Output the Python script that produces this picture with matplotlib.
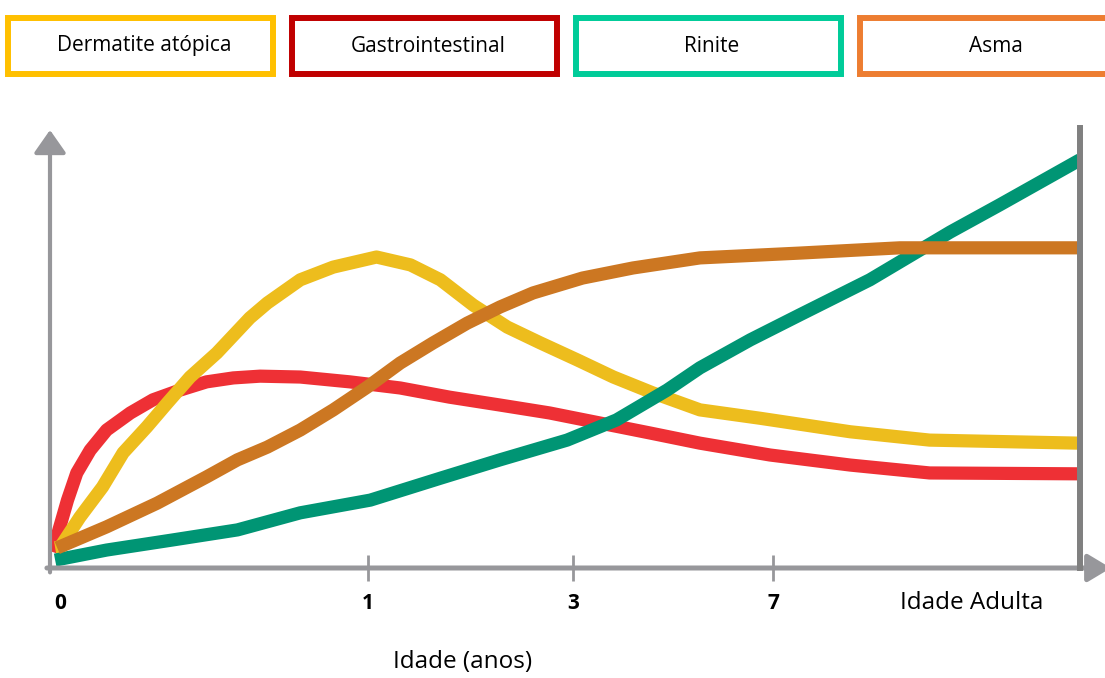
import matplotlib
matplotlib.use('Agg')
import matplotlib.pyplot as plt
from matplotlib.patches import Rectangle

# curves: x = position along the age axis (0-100), y = level (0-100)
red_x = [0.2, 0.5, 1.7, 2.6, 3.9, 5.5, 7.8, 10.0, 12.6, 15.2, 17.8, 20.4, 24.3, 29.1, 34.0, 38.8, 43.7,
         48.5, 53.4, 58.3, 63.1, 69.9, 77.7, 85.4, 100]
red_y = [3.7, 5.7, 15.5, 21.7, 26.9, 31.5, 35.4, 38.4, 40.6, 42.5, 43.4, 43.8, 43.6, 42.5, 41.1, 39.0, 37.2,
         35.4, 33.1, 30.8, 28.5, 25.8, 23.5, 21.7, 21.5]
yel_x = [0.5, 1.0, 2.9, 5.1, 7.1, 9.4, 11.4, 13.6, 16.2, 19.4, 21.1, 24.3, 27.5, 31.7, 35.0, 37.9, 41.1,
         44.4, 47.6, 51.2, 54.7, 58.5, 63.1, 68.9, 77.7, 85.4, 100]
yel_y = [4.6, 4.8, 11.6, 18.5, 26.3, 32.2, 37.7, 43.6, 49.1, 57.1, 60.5, 65.8, 68.7, 71.0, 69.2, 65.8, 60.0,
         55.0, 51.4, 47.5, 43.6, 40.0, 36.1, 34.2, 31.1, 29.2, 28.5]
ora_x = [0.7, 5.5, 10.4, 15.2, 18.2, 21.1, 24.3, 27.5, 30.8, 34.0, 37.2, 40.5, 43.7, 46.9, 51.7, 56.6,
         63.1, 72.8, 82.5, 100]
ora_y = [4.6, 9.4, 14.8, 20.8, 24.7, 27.6, 31.5, 36.1, 41.3, 46.8, 51.4, 55.9, 59.6, 62.8, 66.2, 68.5,
         70.8, 71.9, 73.1, 73.1]
grn_x = [0.5, 5.5, 11.9, 18.2, 24.3, 31.1, 37.9, 43.7, 50.2, 55.0, 59.9, 63.1, 68.0, 72.8, 79.6, 87.4,
         92.2, 100]
grn_y = [1.8, 4.1, 6.4, 8.7, 12.6, 15.5, 20.5, 24.7, 29.2, 33.8, 40.6, 45.7, 52.1, 57.8, 65.8, 76.7,
         82.9, 93.2]

tick_pos = [30.9, 50.8, 70.2]
label_pos = [1.0, 30.9, 50.8, 70.2]
label_txt = ['0', '1', '3', '7']
adult_label = 'Idade Adulta'
adult_pos = 89.5

legend_labels = ['Dermatite atópica', 'Gastrointestinal', 'Rinite', 'Asma']
legend_colors = ['#FFC000', '#C00000', '#00CC99', '#ED7D31']

gray = '#97979B'
W, H = 1105, 678
fig = plt.figure(figsize=(W / 100, H / 100), dpi=100)
ax = fig.add_axes([50 / W, (H - 568) / H, 1030 / W, 438 / H])
ax.set_xlim(0, 100)
ax.set_ylim(0, 100)
for s in ax.spines.values():
    s.set_visible(False)
ax.set_yticks([])

lw = 9.5
kw = dict(lw=lw, solid_capstyle='butt', solid_joinstyle='round')
ax.plot(grn_x, grn_y, color='#009574', zorder=3, **kw)
ax.plot(ora_x, ora_y, color='#CC7722', zorder=4, **kw)
ax.plot(red_x, red_y, color='#EE3035', zorder=2, **kw)
ax.plot(yel_x, yel_y, color='#EDBD1D', zorder=2.5, **kw)

# axes with arrows
ax.annotate('', xy=(0, 1.0), xytext=(0, -0.01), xycoords='axes fraction',
            arrowprops=dict(arrowstyle='-|>,head_length=1.0,head_width=0.7', color=gray, lw=3.0,
                            shrinkA=0, shrinkB=0, mutation_scale=14),
            annotation_clip=False, zorder=5)
ax.annotate('', xy=(1.03, 0), xytext=(-0.003, 0), xycoords='axes fraction',
            arrowprops=dict(arrowstyle='-|>,head_length=1.0,head_width=0.6', color=gray, lw=3.6,
                            shrinkA=0, shrinkB=0, mutation_scale=14),
            annotation_clip=False, zorder=5)
ax.plot([1, 1], [0, 1.005], transform=ax.transAxes, color='#808080', lw=4.3, clip_on=False, zorder=6)

ax.set_xticks(tick_pos)
ax.set_xticklabels([])
ax.tick_params(axis='x', direction='inout', length=19, width=2, color=gray)

for p, t in zip(label_pos, label_txt):
    ax.text(p, -8, t, ha='center', va='center', fontsize=15, fontweight='bold', family='Open Sans')
ax.text(adult_pos, -8, adult_label, ha='center', va='center', fontsize=17.5, family='Open Sans')
fig.text(463 / W, 1 - 662 / H, 'Idade (anos)', ha='center', va='center', fontsize=17.5, family='Open Sans')

# legend boxes on top
for i, (lab, col) in enumerate(zip(legend_labels, legend_colors)):
    x0 = 8 + i * 284
    fig.patches.append(Rectangle((x0 / W, 1 - 74 / H), 265 / W, 56 / H, transform=fig.transFigure,
                                 facecolor='white', edgecolor=col, lw=4.3))
    fig.text((x0 + 136) / W, 1 - 46 / H, lab, ha='center', va='center', fontsize=15, family='Open Sans')

fig.savefig('out.png', dpi=100)
